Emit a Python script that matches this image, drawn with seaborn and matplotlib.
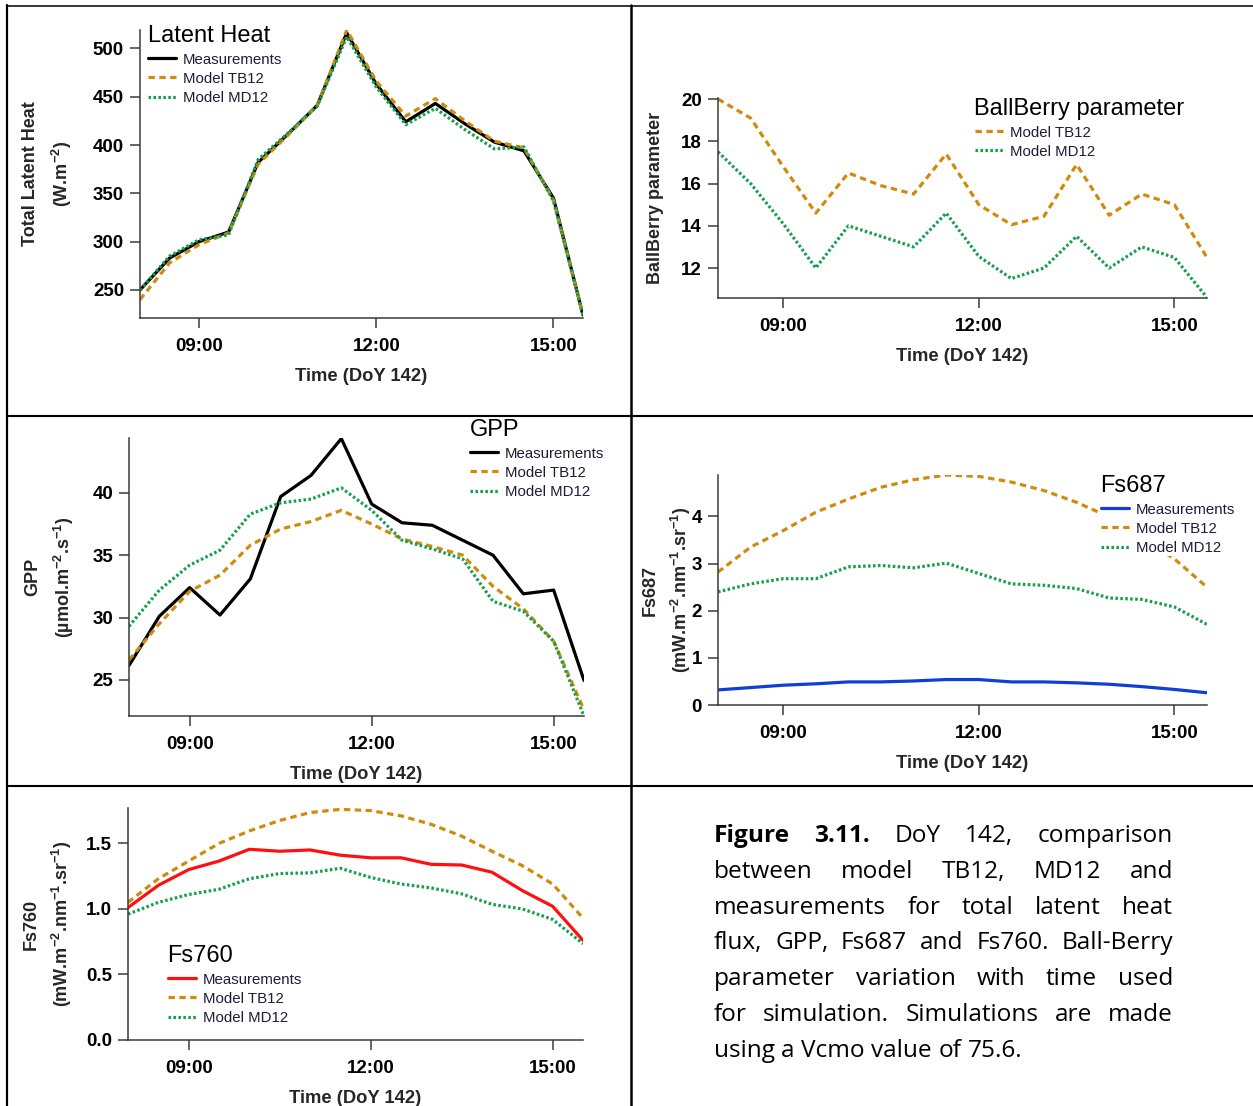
import matplotlib
matplotlib.use("Agg")
import matplotlib.pyplot as plt
from matplotlib.lines import Line2D
import seaborn as sns

# ---------------------------------------------------------------- data
hours = [8.0, 8.5, 9.0, 9.5, 10.0, 10.5, 11.0, 11.5,
         12.0, 12.5, 13.0, 13.5, 14.0, 14.5, 15.0, 15.5]
tick_hours = [9, 12, 15]
tick_labels = ["09:00", "12:00", "15:00"]

# total latent heat (W m-2)
le_meas = [250, 283, 300, 310, 382, 411, 441, 516, 463, 424, 443, 422, 403, 394, 345, 224]
le_tb12 = [240, 278, 297, 309, 380, 410, 441, 519, 466, 430, 448, 425, 404, 397, 343, 224]
le_md12 = [250, 285, 302, 307, 385, 412, 440, 512, 460, 421, 438, 416, 396, 398, 342, 224]

# Ball-Berry parameter
bb_tb12 = [20.0, 19.1, 16.8, 14.6, 16.5, 15.9, 15.5, 17.4, 15.0, 14.05, 14.45, 16.9, 14.5, 15.5, 15.0, 12.5]
bb_md12 = [17.5, 16.0, 14.1, 12.0, 14.0, 13.5, 13.0, 14.6, 12.55, 11.5, 12.0, 13.5, 12.0, 13.0, 12.5, 10.6]

# GPP (umol m-2 s-1)
gpp_meas = [26.15, 30.1, 32.4, 30.2, 33.1, 39.7, 41.4, 44.35, 39.1, 37.6, 37.4, 36.2, 35.0, 31.9, 32.2, 24.95]
gpp_tb12 = [26.6, 29.5, 32.1, 33.4, 35.8, 37.1, 37.7, 38.6, 37.5, 36.3, 35.7, 35.0, 32.5, 30.7, 28.1, 22.6]
gpp_md12 = [29.3, 32.2, 34.2, 35.4, 38.3, 39.2, 39.5, 40.4, 38.6, 36.2, 35.5, 34.7, 31.3, 30.5, 28.1, 22.1]

# Fs687 (mW m-2 nm-1 sr-1)
f687_meas = [0.32, 0.37, 0.42, 0.45, 0.49, 0.49, 0.51, 0.54, 0.54, 0.49, 0.49, 0.47, 0.44, 0.39, 0.33, 0.26]
f687_tb12 = [2.82, 3.35, 3.70, 4.09, 4.37, 4.62, 4.78, 4.88, 4.85, 4.73, 4.55, 4.30, 3.99, 3.53, 3.10, 2.50]
f687_md12 = [2.40, 2.57, 2.68, 2.68, 2.93, 2.96, 2.91, 3.01, 2.79, 2.57, 2.54, 2.47, 2.27, 2.24, 2.08, 1.71]

# Fs760 (mW m-2 nm-1 sr-1)
f760_meas = [1.01, 1.18, 1.30, 1.365, 1.455, 1.44, 1.45, 1.41, 1.39, 1.39, 1.34, 1.335, 1.28, 1.14, 1.02, 0.76]
f760_tb12 = [1.05, 1.23, 1.365, 1.50, 1.595, 1.675, 1.735, 1.76, 1.75, 1.71, 1.645, 1.555, 1.44, 1.33, 1.19, 0.93]
f760_md12 = [0.96, 1.05, 1.11, 1.15, 1.23, 1.27, 1.275, 1.31, 1.24, 1.19, 1.16, 1.115, 1.035, 1.00, 0.92, 0.735]

caption_lines = [
    "Figure 3.11. DoY 142, comparison",
    "between model TB12, MD12 and",
    "measurements for total latent heat",
    "flux, GPP, Fs687 and Fs760. Ball-Berry",
    "parameter variation with time used",
    "for simulation. Simulations are made",
    "using a Vcmo value of 75.6.",
]

# ---------------------------------------------------------------- style
sns.set_style("ticks")
plt.rcParams["font.family"] = ["Liberation Sans", "DejaVu Sans"]
plt.rcParams["mathtext.fontset"] = "custom"
plt.rcParams["mathtext.rm"] = "Liberation Sans:bold"
plt.rcParams["mathtext.it"] = "Liberation Sans:bold"
plt.rcParams["mathtext.bf"] = "Liberation Sans:bold"
plt.rcParams["mathtext.default"] = "rm"

W, H = 1253, 1106
fig = plt.figure(figsize=(W / 100, H / 100), dpi=100)
fig.patch.set_facecolor("white")

C_MEAS = "#000000"
C_TB = "#D18B0C"
C_MD = "#16A04E"
C_BLUE = "#0E3FD6"
C_RED = "#FF1010"
LW = 2.3
DASH = (0, (2.0, 1.4))
DOT = (0, (0.8, 0.75))
AX_COL = "#3a3a3a"


def px_axes(left, top, right, bottom):
    return fig.add_axes([left / W, (H - bottom) / H, (right - left) / W, (bottom - top) / H])


def draw_panel(ax, series, ylim, yticks, yfmt, ylabel, ylab_xc, title, leg_xy):
    for vals, color, ls, name in series:
        sns.lineplot(x=hours, y=vals, ax=ax, color=color, linewidth=LW,
                     linestyle=ls, label=name, legend=False)
    ax.set_xlim(8.0, 15.5)
    ax.set_ylim(*ylim)
    ax.set_xticks(tick_hours)
    ax.set_xticklabels(tick_labels)
    ax.set_yticks(yticks)
    ax.set_yticklabels([yfmt.format(v) for v in yticks])
    sns.despine(ax=ax)
    for side in ("left", "bottom"):
        ax.spines[side].set_color(AX_COL)
        ax.spines[side].set_linewidth(1.1)
    ax.tick_params(axis="both", direction="out", length=7.5, width=1.1, color=AX_COL,
                   labelsize=13.5, labelcolor="black")
    ax.tick_params(axis="x", pad=7)
    ax.tick_params(axis="y", pad=4)
    for lab in ax.get_xticklabels() + ax.get_yticklabels():
        lab.set_fontweight("bold")

    bb = ax.get_position()
    ax_h = bb.height * H
    ax_left = bb.x0 * W
    ax_w = bb.width * W
    ax.set_xlabel("Time (DoY 142)", fontsize=13.2, fontweight="bold", va="top")
    ax.xaxis.set_label_coords(0.5, -50 / ax_h)
    ax.set_ylabel(ylabel, fontsize=13, fontweight="bold", va="center", linespacing=1.55)
    ax.yaxis.set_label_coords((ylab_xc - ax_left) / ax_w, 0.5)

    handles = ax.get_lines()
    labels = [s[3] for s in series]
    leg = ax.legend(handles=handles, labels=labels, title=title, loc="upper left",
                    bbox_to_anchor=(leg_xy[0] / W, 1 - leg_xy[1] / H),
                    bbox_transform=fig.transFigure, frameon=True, fancybox=False,
                    facecolor="white", edgecolor="none", framealpha=1.0,
                    borderpad=0.1, borderaxespad=0, fontsize=10.8, title_fontsize=17,
                    handlelength=1.9, handletextpad=0.45, labelspacing=0.34,
                    alignment="left", labelcolor="#1d1d38")
    leg.get_title().set_color("black")
    return leg


# Latent heat
ax1 = px_axes(140, 30, 583, 318)
draw_panel(ax1,
           [(le_meas, C_MEAS, "-", "Measurements"),
            (le_tb12, C_TB, DASH, "Model TB12"),
            (le_md12, C_MD, DOT, "Model MD12")],
           (221, 519), [250, 300, 350, 400, 450, 500], "{:d}",
           "Total Latent Heat\n(W.m$^{-2}$)", 48, "Latent Heat", (146, 24))

# Ball-Berry parameter
ax2 = px_axes(718, 98, 1207, 298)
draw_panel(ax2,
           [(bb_tb12, C_TB, DASH, "Model TB12"),
            (bb_md12, C_MD, DOT, "Model MD12")],
           (10.58, 20.05), [12, 14, 16, 18, 20], "{:d}",
           "BallBerry parameter", 656, "BallBerry parameter", (973, 97))

# GPP
ax3 = px_axes(129, 438, 584, 716)
draw_panel(ax3,
           [(gpp_meas, C_MEAS, "-", "Measurements"),
            (gpp_tb12, C_TB, DASH, "Model TB12"),
            (gpp_md12, C_MD, DOT, "Model MD12")],
           (22.1, 44.4), [25, 30, 35, 40], "{:d}",
           "GPP\n(µmol.m$^{-2}$.s$^{-1}$)", 50, "GPP", (468, 418))

# Fs687
ax4 = px_axes(718, 475, 1207, 705)
draw_panel(ax4,
           [(f687_meas, C_BLUE, "-", "Measurements"),
            (f687_tb12, C_TB, DASH, "Model TB12"),
            (f687_md12, C_MD, DOT, "Model MD12")],
           (0, 4.88), [0, 1, 2, 3, 4], "{:d}",
           "Fs687\n(mW.m$^{-2}$.nm$^{-1}$.sr$^{-1}$)", 667, "Fs687", (1099, 474))

# Fs760
ax5 = px_axes(128, 808, 583, 1040)
draw_panel(ax5,
           [(f760_meas, C_RED, "-", "Measurements"),
            (f760_tb12, C_TB, DASH, "Model TB12"),
            (f760_md12, C_MD, DOT, "Model MD12")],
           (0, 1.77), [0.0, 0.5, 1.0, 1.5], "{:.1f}",
           "Fs760\n(mW.m$^{-2}$.nm$^{-1}$.sr$^{-1}$)", 48, "Fs760", (166, 944))

# ---------------------------------------------------------------- table rules
def rule(x0, y0, x1, y1, lw):
    fig.add_artist(Line2D([x0 / W, x1 / W], [1 - y0 / H, 1 - y1 / H],
                          transform=fig.transFigure, color="black", linewidth=lw))

rule(7, 5, 7, H, 1.6)
rule(7, 5.5, W, 5.5, 1.1)
rule(631, 5, 631, H, 1.8)
rule(7, 415.5, W, 415.5, 1.5)
rule(7, 786, W, 786, 1.5)

# ---------------------------------------------------------------- caption (justified)
renderer = fig.canvas.get_renderer()
cap_left, cap_right = 714, 1173
baselines = [842, 877.8, 913.6, 949.4, 985.2, 1021.0, 1056.8]
cap_size = 17.6
cap_family = ["Open Sans", "DejaVu Sans"]

probe = fig.text(0, 0, "a a", fontsize=cap_size, family=cap_family)
probe2 = fig.text(0, 0, "aa", fontsize=cap_size, family=cap_family)
space_w = probe.get_window_extent(renderer).width - probe2.get_window_extent(renderer).width
probe.remove()
probe2.remove()

for i, (line, base) in enumerate(zip(caption_lines, baselines)):
    words = line.split(" ")
    texts = []
    for j, w in enumerate(words):
        bold = (i == 0 and j < 2)
        t = fig.text(0, 1 - base / H, w, fontsize=cap_size, family=cap_family,
                     fontweight="bold" if bold else "normal", va="baseline", ha="left",
                     color="black")
        texts.append(t)
    widths = [t.get_window_extent(renderer).width for t in texts]
    last = i == len(caption_lines) - 1
    if last or len(words) == 1:
        gap = space_w
    else:
        gap = max(space_w * 0.6, (cap_right - cap_left - sum(widths)) / (len(words) - 1))
    x = cap_left
    for t, w in zip(texts, widths):
        t.set_x(x / W)
        x += w + gap

fig.savefig("out.png", dpi=100, facecolor="white")
